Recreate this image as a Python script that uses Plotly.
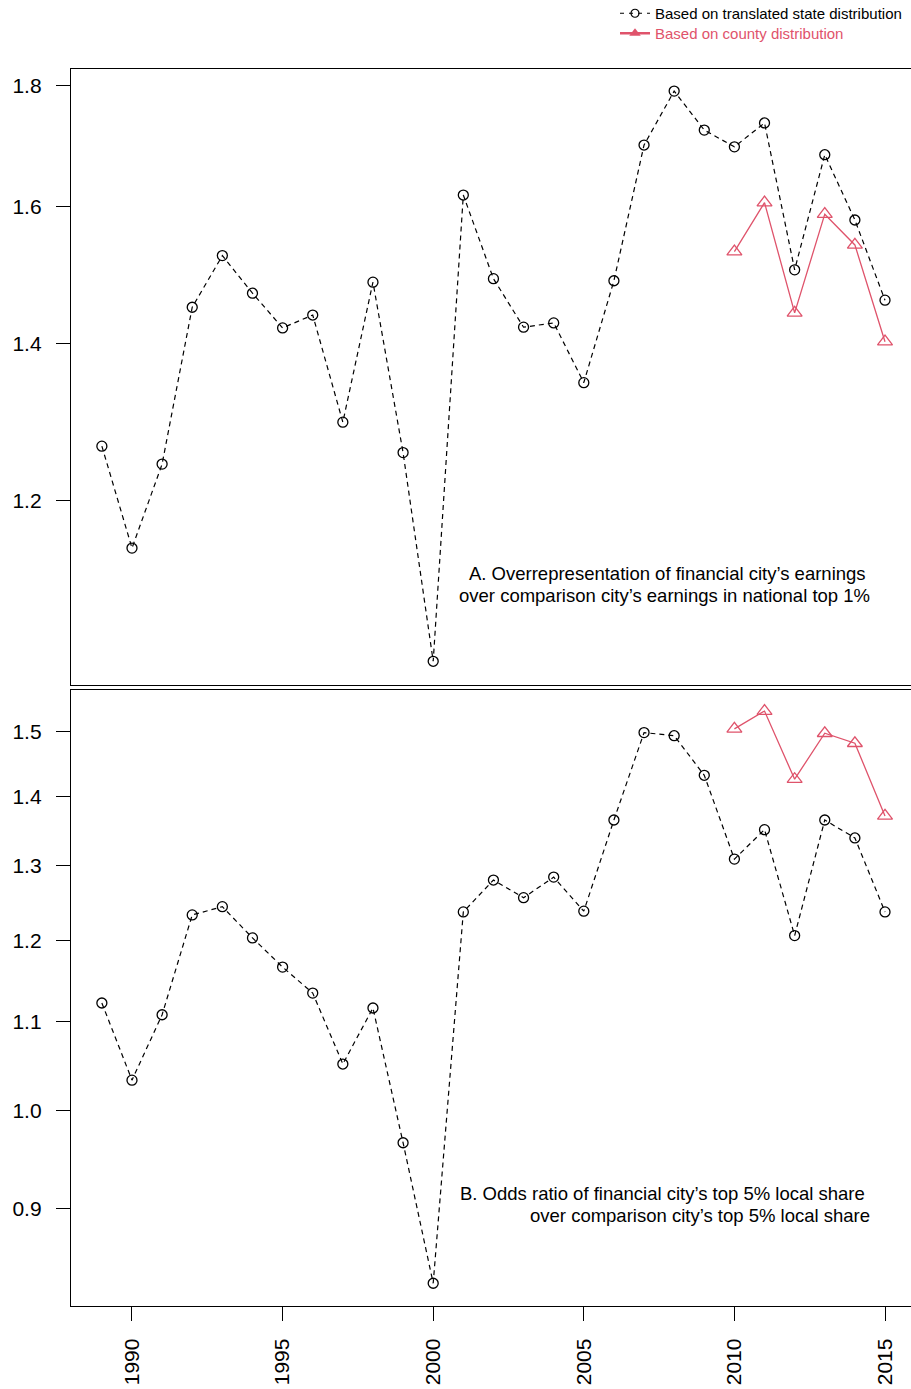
import math
import plotly.graph_objects as go

years = list(range(1989, 2016))
county_years = list(range(2010, 2016))

# Panel A: overrepresentation of earnings in national top 1%
a_state = [1.266, 1.146, 1.244, 1.450, 1.525, 1.470, 1.421, 1.439, 1.296, 1.486,
           1.258, 1.026, 1.618, 1.491, 1.422, 1.428, 1.347, 1.488, 1.699, 1.791,
           1.724, 1.696, 1.736, 1.504, 1.683, 1.579, 1.460]
a_county = [1.531, 1.606, 1.442, 1.588, 1.541, 1.402]

# Panel B: odds ratio of top 5% local share
b_state = [1.122, 1.033, 1.108, 1.233, 1.244, 1.203, 1.166, 1.134, 1.051, 1.116,
           0.966, 0.831, 1.237, 1.280, 1.256, 1.284, 1.238, 1.365, 1.499, 1.494,
           1.432, 1.309, 1.351, 1.206, 1.365, 1.339, 1.237]
b_county = [1.505, 1.534, 1.426, 1.498, 1.482, 1.371]

a_ticks = [1.2, 1.4, 1.6, 1.8]
b_ticks = [0.9, 1.0, 1.1, 1.2, 1.3, 1.4, 1.5]
x_ticks = [1990, 1995, 2000, 2005, 2010, 2015]

RED = "#DF536B"
FONT = "Liberation Sans, Arial, Helvetica, sans-serif"
W, H = 911, 1389

fig = go.Figure()

def add_panel(state, county, xa, ya):
    fig.add_trace(go.Scatter(
        x=years, y=state, mode="lines+markers", xaxis=xa, yaxis=ya,
        line=dict(color="black", width=1.2, dash="5px,4px"),
        marker=dict(symbol="circle-open", size=10, color="black", line=dict(width=1.3)),
        showlegend=False))
    fig.add_trace(go.Scatter(
        x=county_years, y=county, mode="lines+markers", xaxis=xa, yaxis=ya,
        line=dict(color=RED, width=1.3),
        marker=dict(symbol="triangle-up-open", size=13, color=RED, line=dict(width=1.3)),
        showlegend=False))

add_panel(a_state, a_county, "x", "y")
add_panel(b_state, b_county, "x2", "y2")

# legend-only traces
fig.add_trace(go.Scatter(
    x=[None], y=[None], mode="lines+markers", name="Based on translated state distribution",
    line=dict(color="black", width=1.2, dash="4px,5px"),
    marker=dict(symbol="circle-open", size=8, color="black", line=dict(width=1.2)),
    legend="legend"))
fig.add_trace(go.Scatter(
    x=[None], y=[None], mode="lines+markers",
    name='<span style="color:%s">Based on county distribution</span>' % RED,
    line=dict(color=RED, width=2.5),
    marker=dict(symbol="triangle-up", size=10, color=RED),
    legend="legend2"))

xr = [1987.975, 2015.863]
def py(px_top, px_bot):
    return [(H - px_bot) / H, (H - px_top) / H]

common_x = dict(range=xr, showgrid=False, zeroline=False, showline=True, mirror=True,
                linecolor="black", linewidth=1.3, domain=[71 / W, 1])
common_y = dict(type="log", showgrid=False, zeroline=False, showline=True, mirror=False,
                linecolor="black", linewidth=1.3, ticks="outside", ticklen=14,
                tickcolor="black", tickwidth=1.2, ticklabelstandoff=10,
                tickfont=dict(family=FONT, size=21, color="black"))

leg_common = dict(xanchor="left", yanchor="top",
                  font=dict(family=FONT, size=15, color="black"),
                  bgcolor="rgba(0,0,0,0)")

fig.update_layout(
    width=W, height=H, margin=dict(l=0, r=0, t=0, b=0, autoexpand=False),
    paper_bgcolor="white", plot_bgcolor="white",
    xaxis=dict(**common_x, anchor="y", showticklabels=False, ticks=""),
    yaxis=dict(**common_y, domain=py(69, 685), anchor="x",
               range=[math.log10(1.0025), math.log10(1.830)],
               tickvals=a_ticks, ticktext=[str(v) for v in a_ticks]),
    xaxis2=dict(**common_x, anchor="y2", ticks="outside", ticklen=14, tickcolor="black",
                tickwidth=1.2, tickvals=x_ticks, ticktext=[str(v) for v in x_ticks],
                tickangle=-90, ticklabelstandoff=9,
                tickfont=dict(family=FONT, size=21, color="black")),
    yaxis2=dict(**common_y, domain=py(690, 1306), anchor="x2",
                range=[math.log10(0.811), math.log10(1.569)],
                tickvals=b_ticks, ticktext=["%.1f" % v for v in b_ticks]),
    legend=dict(x=615 / W, y=1 + 3 / H, **leg_common),
    legend2=dict(x=615 / W, y=1 - 17 / H, **leg_common),
    font=dict(family=FONT),
)

def ann(text, cx, cy):
    fig.add_annotation(text=text, x=cx / W, y=(H - cy) / H, xref="paper", yref="paper",
                       xanchor="center", yanchor="middle", showarrow=False,
                       font=dict(family=FONT, size=18.5, color="black"))

ann("A. Overrepresentation of financial city\u2019s earnings", 667, 573)
ann("over comparison city\u2019s earnings in national top 1%", 664.5, 595)
ann("B. Odds ratio of financial city\u2019s top 5% local share", 662, 1193)
ann("over comparison city\u2019s top 5% local share", 700, 1215)

fig.write_html("out.html")
